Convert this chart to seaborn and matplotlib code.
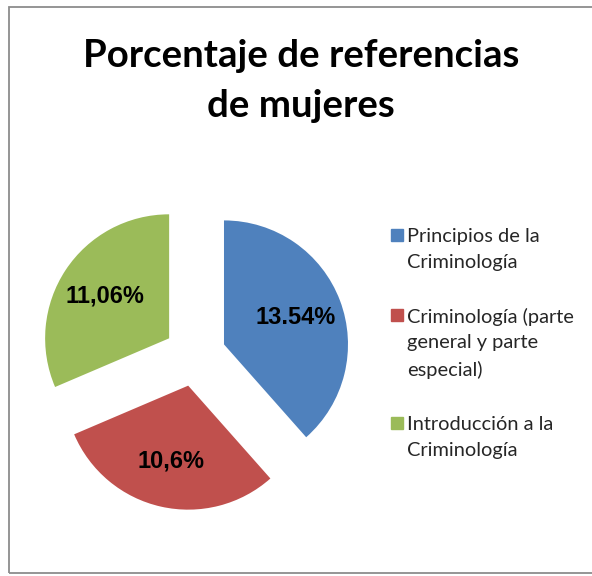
import matplotlib
matplotlib.use("Agg")
import matplotlib.pyplot as plt
from matplotlib.lines import Line2D
from matplotlib.patches import Rectangle
import seaborn as sns

# ---- data ----
categories = ["Principios de la\nCriminología",
              "Criminología (parte\ngeneral y parte\nespecial)",
              "Introducción a la\nCriminología"]
values = [13.54, 10.6, 11.06]
value_labels = ["13.54%", "10,6%", "11,06%"]
colors = ["#4F81BD", "#C0504D", "#9BBB59"]
title = "Porcentaje de referencias\nde mujeres"

sns.set_theme(style="white")
plt.rcParams["font.family"] = ["Lato", "DejaVu Sans"]

W, H = 592, 576
fig = plt.figure(figsize=(W / 100, H / 100), dpi=100)
fig.patch.set_facecolor("white")

# outer frame (right edge cut off)
fig.add_artist(Rectangle((9 / W, 3 / H), 1.2, (569 - 3) / H, transform=fig.transFigure,
                         fill=False, edgecolor="#8c8c8c", linewidth=1.3))

# pie axes
r_px = 124
cx, cy = 195, H - 355.4
lim = 1.4
size = 2 * lim * r_px
ax = fig.add_axes([(cx - size / 2) / W, (cy - size / 2) / H, size / W, size / H])
wedges, texts, autotexts = ax.pie(values, colors=colors, startangle=90, counterclock=False,
                                  explode=[0.25] * len(values), autopct=lambda p: "",
                                  pctdistance=0.62,
                                  wedgeprops=dict(linewidth=0),
                                  textprops=dict(fontsize=17, fontweight="bold",
                                                 family="Liberation Sans", color="black"))
for t, s in zip(autotexts, value_labels):
    t.set_text(s)
ax.set_xlim(-lim, lim)
ax.set_ylim(-lim, lim)
ax.set_aspect("equal")
ax.axis("off")

# title
fig.text(301 / W, 1 - 39 / H, title, ha="center", va="top", fontsize=27.6,
         fontweight="bold", linespacing=1.56, color="black")

# legend
handles = [Line2D([], [], marker="s", linestyle="", markersize=8.6, color=c) for c in colors]
leg = fig.legend(handles, categories, loc="upper left", bbox_to_anchor=(391 / W, 1 - 228 / H),
                 frameon=False, fontsize=14.4, handlelength=0.55, handletextpad=0.25,
                 labelspacing=1.85, borderpad=0, borderaxespad=0)
for t in leg.get_texts():
    t.set_linespacing(1.62)
try:
    for col in leg._legend_handle_box.get_children():
        for hp in col.get_children():
            hp.align = "top"
except Exception:
    pass

fig.savefig("out.png", dpi=100, facecolor="white")
